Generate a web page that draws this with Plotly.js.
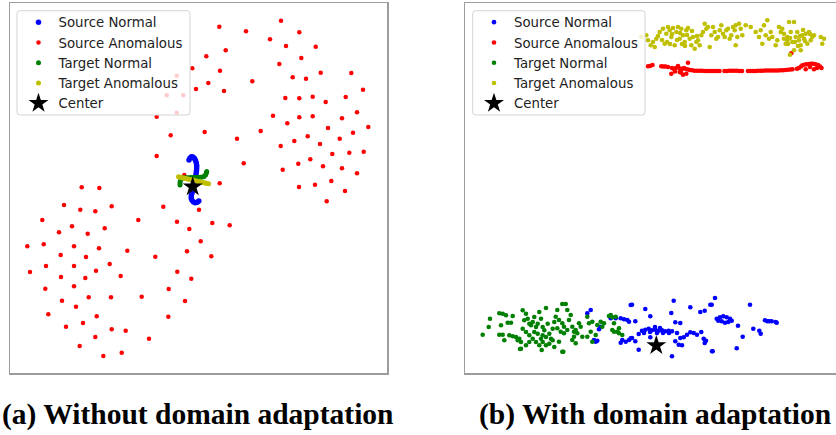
<!DOCTYPE html>
<html>
<head>
<meta charset="utf-8">
<script src="https://cdn.plot.ly/plotly-3.0.1.min.js"></script>
<style>
html,body{margin:0;padding:0;background:#fff;}
#chart{width:836px;height:435px;}
</style>
</head>
<body>
<div id="chart"></div>
<script>
// ---- Values (embedding coordinates, arbitrary units; y grows downward) ----
const seriesNames = ["Source Normal", "Source Anomalous", "Target Normal", "Target Anomalous", "Center"];
const captions = ["(a) Without domain adaptation", "(b) With domain adaptation"];

// Panel (a): without domain adaptation
const aSourceNormal = [[189,160],[190,158],[191.5,156.8],[193,157],[194.5,158.5],[195.5,160.5],[196.3,163],[196.7,165.5],[196.7,168],[196.5,170.5],[196.2,173],[195.8,175.5],[195.3,178],[194.8,180.5],[194.2,183],[193.7,185.5],[193.2,188],[192.7,190.5],[192,193],[191.3,195.5],[191.2,198],[192,200.3],[193.5,202],[195.3,202.8],[197.2,202.3],[198.8,201]];
const aSourceAnomalous = [[281,20.7],[219.3,26.7],[246,31.3],[299.3,32.3],[270,39.3],[225.7,50.3],[286,46],[315.7,46.7],[206.3,56.3],[301.3,58],[279.3,64],[192.3,68.3],[220,70.7],[176.7,75.7],[320.7,72.7],[351.3,73],[292.7,77.3],[306,78.7],[252.3,81.3],[208.3,83],[196,89],[224,91],[166.7,95.3],[183.3,95.3],[363,89.7],[285.3,98],[299.3,98.3],[312.7,96.7],[325.7,102],[345.7,97],[357,112.3],[156.7,116.7],[176.7,112.7],[273,115.7],[299.3,117.3],[312.7,116.3],[342,118.3],[287.3,123.3],[328,128],[368.3,127],[260.7,131],[170.7,135.3],[204.7,132],[237,138.7],[307.7,136.3],[294.3,141],[353,132.7],[339.7,138.7],[280.7,146],[320,144],[332.3,154],[349.3,152.7],[363.7,151.7],[156.7,156],[310.3,159.3],[298.3,163.7],[243.7,163.3],[323,166.3],[342,168.3],[282.7,169.7],[357,173.3],[219.7,183.3],[299,187],[315,184.7],[331.3,181],[345,191],[81.7,187.3],[99.3,188],[184.3,175],
[326.7,201.3],[64,205],[80.3,209.7],[95.3,211.3],[111.7,206.3],[163.3,206.7],[199,209.7],[42.3,220],[138.3,220],[177,221.7],[72,226.3],[59,232.3],[87.7,233.7],[104.7,228.3],[189.3,229],[212.3,223],[229.7,225.3],[27.3,246.3],[43.7,244.3],[74,246.3],[99,248.3],[127.3,250.7],[200.7,241.3],[187,251.3],[155.3,256.7],[211.3,256.3],[60.7,255],[86,257],[109.7,264],[46,266],[74,266],[96,270.7],[30,272],[61,277],[85.3,278],[120.7,276],[177.3,271.7],[191.3,278.7],[45.3,288.7],[74,286.3],[168.7,289],[62,300.7],[88.7,297.3],[111,297.3],[141.7,296.7],[185,301],[76,306.7],[48.3,314.3],[96.7,316.3],[168.3,316.7],[66,326.7],[83,323],[111.7,329.3],[125.7,330.7],[149,338.7],[95.3,337],[79.7,346],[103.3,356],[121.7,352.7]];
const aTargetNormal = [[180,185],[180,183],[180.3,181],[181,179],[182.5,178],[184.5,177.7],[186.5,177.7],[188.5,177.7],[190.5,177.5],[192.5,177.5],[194.5,177.5],[196.5,177.5],[198.5,177.3],[200.5,177.3],[202.5,177],[204,176.5],[205.5,175],[206.3,173.2],[206.7,171.5]];
const aTargetAnomalous = [[178.5,176.8],[180,177.2],[181.5,177.5],[183,177.9],[184.5,178.2],[186,178.6],[187.5,178.9],[189,179.3],[190.5,179.6],[192,180],[193.5,180.3],[195,180.7],[196.5,181],[198,181.4],[199.5,181.7],[201,182.1],[202.5,182.4],[204,182.8],[205.5,183.1],[207,183.5],[208.5,183.8]];
const aCenter = [[192.7,186.7]];

// Panel (b): with domain adaptation
const bSourceNormal = [[590.7,310],[587.3,313.3],[600.7,326.7],[599,329.3],[594,340],[595.7,341.7],[597.3,340.7],[610.7,318.3],[615.7,318.3],[620.7,318.3],[624,319.3],[627.3,320],[629,321.7],[622.3,340],[625.7,341.7],[629,340],[630.7,338.3],[620.7,342.7],[630.7,305],
[632,304.7],[673.7,300.7],[645.3,309],[671.3,313],[650.3,316.3],[635.3,321.3],[675.3,322.3],[680.3,323],[690.3,307.3],[700.3,312],[704.7,310.7],[710.3,304.7],[638.7,334],[642,330.7],[645.3,329.7],[648.7,328.7],[652,330.3],[655.3,329.7],[658.7,330.7],[662,330.3],[665.3,331.3],[668.7,330.7],[672,331.3],[677,333],[680.3,338],[683.7,337.3],[687,334.7],[690.3,332.3],[693.7,333],[697,334.7],[701.3,332],[703.7,338.7],[704.7,343],[706,340.7],[675.3,341.3],[678.7,344.7],[682,345.3],[638.7,349.7],[672,356.3],[712,351.3],[632,338],[635.3,341.3],[650.3,337.3],[644,333],[650,332],[657,333],[663,333],[669,333],[655,327],[660,328],
[715,298],[711.7,304.7],[750,304.7],[716.7,318.7],[720,317.3],[723.3,316.3],[726.7,317.3],[730,318.7],[731.7,320.7],[728.3,322],[725,322.7],[721.7,321.3],[718.3,320.7],[738,325.7],[753.3,328.7],[759.3,330.7],[760.7,333.7],[742.7,336.7],[736.7,348.3],[712.7,351.3],[765,320.3],[767.3,321.3],[769.3,321.3],[771.7,321.3],[775.7,322],[776.7,322.7]];
const bSourceAnomalous = [[648,66.3],[650,66],[652.5,65],[661.3,66.3],[663.5,66.5],[665.5,66.5],[668,67],[672,68],[674,69],[676,68],[678,66],[680,68.5],[682,69],[684,68],[686,69],[688,69.5],[690,70],[692,70.3],[694.5,70.7],[697,70.7],[699.5,70.7],[702,70.7],[704.5,71],[707,71],[709.5,71],[712,71],[714.5,71],[717,71],[719.5,71],[724.5,71],[727,71],[729.5,70.8],[732,70.7],[734.5,70.7],[737,70.7],[739.5,71],[742,71],[748,71],[750.5,71],[753,71],[755.5,71],[758,70.8],[760.5,70.7],[763,70.7],[765.5,70.5],[768,70.5],[770.5,70.5],[773,70.5],[775.5,70.5],[778,70.5],[780.5,70.3],[783,70.2],[785.5,70],[788,69.8],[790.5,69.5],[792.5,69.3],[797,68.8],[799,68],[801,66.5],[802.5,65.3],[805,64.5],[807,64.2],[809,64],[811,63.8],[813,63.8],[815.5,64.2],[818,65],[820,66.5],[821.5,68],[805.7,69.3],[814,69.3],[810,67],[817,68],[671.3,73.7],[679.7,72],[683,74.7],[686.3,73.7],[688,62.7],[675,71.5],[681,72.5],[791.3,53.3]];
const bTargetNormal = [[482.7,334.7],[488.7,327],[490,318.7],[499.3,313.3],[501,325.3],[502.7,313.7],[506,315.3],[507.7,322.7],[511,322.7],[512.7,316],[499.3,334.7],[502.7,334.7],[504.3,340.3],[509.3,335.3],[512.7,336.3],[516,337],[517.7,340.3],[519.3,338.7],[521,342],[522.7,310.3],[524.3,320.3],[526,313.7],[527.7,318.7],[529.3,323.7],[531,325.3],[532.7,322],[534.3,317],[536,327],[537.7,323.7],[539.3,312],[541,318.7],[542.7,327],[544.3,330.3],[546,308],[547.7,323.7],[549.3,333.7],[551,338.7],[552.7,328.7],[554.3,322],[522.7,328.7],[526,332],[529.3,335.3],[532.7,338.7],[536,342],[539.3,345.3],[542.7,342],[546,345.3],[549.3,343.7],[552.7,340.3],[554.3,347],[541,338.7],[534.3,332],[529.3,342],[526,345.3],[537.7,333.7],[542.7,335.3],[546,337],[521,348.7],[541.7,350],[563.3,351.7],[520,349],
[562.3,304],[565.7,304],[567.3,310],[570.7,315],[557.3,310],[555.7,316.7],[559,320],[562.3,323.3],[564,326.7],[557.3,328.3],[560.7,331.7],[564,333.3],[567.3,330],[569,320],[572.3,326.7],[574,331.7],[575.7,330],[577.3,333.3],[579,323.3],[580.7,326.7],[582.3,336.7],[574,336.7],[575.7,343.3],[572.3,340],[562.3,351.7],[559,341.7],[587.3,316.7],[589,323.3],[590.7,331.7],[592.3,321.7],[597.3,325],[600.7,321.7],[602.3,326.7],[604,323.3],[609,316],[610.7,315],[612.3,317.3],[614,323.3],[615.7,316.7],[612.3,330],[614,331.7],[617.3,331.7],[619,333.3],[622.3,335],[619,328.3],[587.3,336.7],[592.3,341.7],[595.7,335]];
const bTargetAnomalous = [[641.3,37],[646.3,35.3],[648,40.3],[650.7,45.3],[653,42],[656.3,38.7],[654.7,47],[659.7,32],[663,28.7],[664.7,43.7],[666.3,33.7],[668,27],[669.7,30.3],[671.3,37],[673,28],[674.7,45.3],[676.3,32],[678,27],[679.7,38.7],[681.3,28.7],[683,35.3],[684.7,42],[686.3,30.3],[688,28],[689.7,38.7],[691.3,45.3],[693,37],[694.7,48.7],[696.3,42],[698,40.3],[699.7,45.3],[701.3,35.3],[703,32],[704.7,23.7],[706.3,28.7],[708,27],[709.7,47],[711.3,35.3],[713,27],[714.7,32],[716.3,38.7],[718,37],[719.7,30.3],[721.3,25.3],[723,33.7],[724.7,37],[726.3,30.3],[728,28.7],[729.7,38.7],[731.3,35.3],[733,27],[734.7,30.3],[658,36],[662,40],[667,42],[672,34],[677,40],[682,44],[687,35],[692,31],[697,36],[680,33],[670,44],[685,46],
[735.7,25.3],[739,23.7],[740.7,28.7],[737.3,37],[735.7,45.3],[742.3,35.3],[745.7,25.3],[750.7,27],[755.7,32],[759,37],[760.7,30.3],[764,25.3],[765.7,35.3],[767.3,20.3],[762.3,43.7],[769,38.7],[770.7,32],[772.3,37],[775.7,45.3],[777.3,40.3],[779,27],[780.7,32],[782.3,28.7],[784,38.7],[785.7,43.7],[787.3,37],[789,22],[790.7,32],[792.3,42],[794,22],[795.7,37],[797.3,32],[799,40.3],[800.7,45.3],[802.3,35.3],[804,38.7],[805.7,33.7],[807.3,43.7],[809,32],[810.7,40.3],[812.3,37],[814,35.3],[820.7,37],[824,38.7],[822.3,43.7],[794,50.3],[800.7,50.3],[790,54.7],[784,33.7],[787.3,40.3],[790,38],[795,42],[800,36],[805,41],[810,34],[798,46],[788,44],[803,30]];
const bCenter = [[656.3,345.5]];

// ---- Styles ----
const colors = ["#0000ff", "#ff0000", "#008000", "#bfbf00", "#000000"];
const W = 836, H = 435;

function mk(pts, i, xa, ya, leg, size) {
  const isStar = i === 4;
  return {
    type: "scatter", mode: "markers", name: seriesNames[i],
    x: pts.map(p => p[0]), y: pts.map(p => p[1]),
    xaxis: xa, yaxis: ya, legend: leg,
    marker: isStar ? {symbol: "star", size: 15, color: "#000", line: {width: 0}}
                   : {size: size, color: colors[i], line: {width: 0}},
    hoverinfo: "skip"
  };
}

const data = [
  mk(aSourceNormal, 0, "x", "y", "legend", 5.5),
  mk(aSourceAnomalous, 1, "x", "y", "legend", 4.5),
  mk(aTargetNormal, 2, "x", "y", "legend", 5),
  mk(aTargetAnomalous, 3, "x", "y", "legend", 5),
  mk(aCenter, 4, "x", "y", "legend"),
  mk(bSourceNormal, 0, "x2", "y2", "legend2", 4.6),
  mk(bSourceAnomalous, 1, "x2", "y2", "legend2", 4.6),
  mk(bTargetNormal, 2, "x2", "y2", "legend2", 4.6),
  mk(bTargetAnomalous, 3, "x2", "y2", "legend2", 4.6),
  mk(bCenter, 4, "x2", "y2", "legend2")
];

// rounded legend frame (pixel box -> paper path)
function frame(x0, y0, x1, y1, r) {
  const px = v => (v / W).toFixed(5), py = v => ((H - v) / H).toFixed(5);
  const p = [
    "M", px(x0 + r), py(y0), "L", px(x1 - r), py(y0), "Q", px(x1), py(y0), px(x1), py(y0 + r),
    "L", px(x1), py(y1 - r), "Q", px(x1), py(y1), px(x1 - r), py(y1),
    "L", px(x0 + r), py(y1), "Q", px(x0), py(y1), px(x0), py(y1 - r),
    "L", px(x0), py(y0 + r), "Q", px(x0), py(y0), px(x0 + r), py(y0), "Z"
  ].join(" ");
  return {type: "path", xref: "paper", yref: "paper", path: p, layer: "above",
          fillcolor: "rgba(255,255,255,0.8)", line: {color: "#d4d4d4", width: 1}};
}

const spine = "#9c9c9c";
const axBase = {showgrid: false, zeroline: false, showticklabels: false, ticks: "", fixedrange: true};
const legBase = {
  bgcolor: "rgba(0,0,0,0)", borderwidth: 0,
  font: {family: "DejaVu Sans", size: 13.3, color: "#222"},
  xanchor: "left", yanchor: "top", tracegroupgap: 0, itemclick: false
};

const layout = {
  width: W, height: H,
  margin: {l: 0, r: 0, t: 0, b: 0, pad: 0},
  paper_bgcolor: "#fff", plot_bgcolor: "#fff",
  showlegend: true,
  xaxis: Object.assign({}, axBase, {domain: [10 / W, 387 / W], range: [10, 387], showline: true, mirror: true, linecolor: spine, linewidth: 1.5}),
  yaxis: Object.assign({}, axBase, {domain: [(H - 373) / H, (H - 3) / H], range: [373, 3], showline: true, mirror: true, linecolor: spine, linewidth: 1.5}),
  xaxis2: Object.assign({}, axBase, {domain: [465 / W, 1], range: [465, 836], anchor: "y2", showline: true, mirror: true, linecolor: spine, linewidth: 1.5}),
  yaxis2: Object.assign({}, axBase, {domain: [(H - 373) / H, (H - 3) / H], range: [373, 3], anchor: "x2", showline: true, mirror: false, linecolor: spine, linewidth: 1.5}),
  legend: Object.assign({}, legBase, {x: 18.5 / W, y: (H - 7) / H}),
  legend2: Object.assign({}, legBase, {x: 474 / W, y: (H - 7) / H}),
  shapes: [frame(17, 10.7, 190, 115, 3), frame(472.7, 10.7, 645, 115, 3)],
  annotations: [
    {text: "<b>" + captions[0] + "</b>", xref: "paper", yref: "paper", x: 197.5 / W, y: (H - 414) / H, xanchor: "center", yanchor: "middle", showarrow: false, font: {family: "Liberation Serif", size: 29.5, color: "#000"}},
    {text: "<b>" + captions[1] + "</b>", xref: "paper", yref: "paper", x: 655 / W, y: (H - 414) / H, xanchor: "center", yanchor: "middle", showarrow: false, font: {family: "Liberation Serif", size: 29.5, color: "#000"}}
  ]
};

Plotly.newPlot("chart", data, layout, {staticPlot: true, displayModeBar: false});
</script>
</body>
</html>
